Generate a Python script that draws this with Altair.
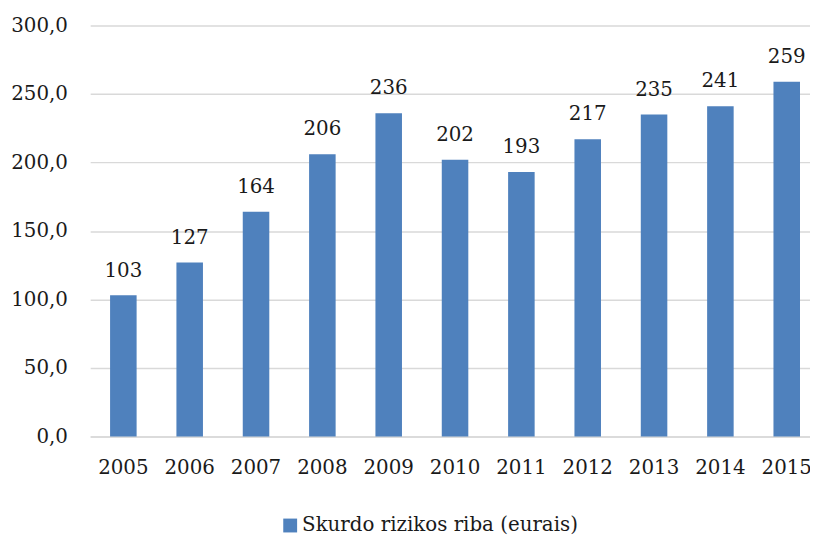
import altair as alt
import pandas as pd

years = ["2005", "2006", "2007", "2008", "2009", "2010", "2011", "2012", "2013", "2014", "2015"]
values = [103, 127, 164, 206, 236, 202, 193, 217, 235, 241, 259]
series_name = "Skurdo rizikos riba (eurais)"

df = pd.DataFrame({"year": years, "value": values, "series": [series_name] * len(years)})

FONT = "DejaVu Serif"
FS = 20
TXT = "#1a1a1a"

base = alt.Chart(df).encode(
    x=alt.X("year:N", sort=years, title=None,
            scale=alt.Scale(paddingInner=0.6, paddingOuter=0.3, range=[0, 737]),
            axis=alt.Axis(labelAngle=0, ticks=False, domain=True, domainColor="#d9d9d9",
                          domainWidth=1.5, labelPadding=21, labelFont=FONT, labelFontSize=FS,
                          labelColor=TXT, grid=False)),
)

bars = base.mark_bar(color="#4F81BD").encode(
    y=alt.Y("value:Q", title=None,
            scale=alt.Scale(domain=[0, 300], nice=False),
            axis=alt.Axis(values=[0, 50, 100, 150, 200, 250, 300], ticks=False, domain=False,
                          gridColor="#d9d9d9", gridWidth=1.5, labelPadding=23,
                          labelFont=FONT, labelFontSize=FS, labelColor=TXT,
                          labelExpr="replace(format(datum.value, '.1f'), '.', ',')")),
    color=alt.Color("series:N", scale=alt.Scale(range=["#4F81BD"]),
                    legend=alt.Legend(title=None, orient="none", legendX=192, legendY=495,
                                      symbolType="square", symbolSize=196, symbolStrokeWidth=0,
                                      labelFont=FONT, labelFontSize=FS, labelColor=TXT,
                                      labelOffset=2, labelLimit=500)),
)

labels = base.mark_text(font=FONT, fontSize=FS, color=TXT, baseline="alphabetic", dy=-19).encode(
    y=alt.Y("value:Q"),
    text=alt.Text("value:Q", format="d"),
)

chart = (bars + labels).properties(
    width=727, height=415,
    autosize=alt.AutoSizeParams(type="none"),
    padding={"left": 83, "top": 15, "right": 0, "bottom": 106},
).configure_view(stroke=None)

chart.save("out.html", embed_options={"renderer": "svg", "actions": False})
